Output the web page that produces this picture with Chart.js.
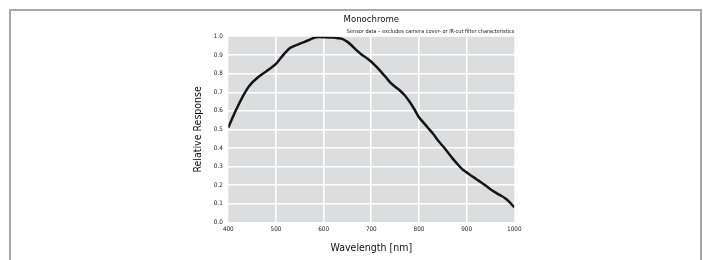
<!DOCTYPE html>
<html>
<head>
<meta charset="utf-8">
<script src="https://cdn.jsdelivr.net/npm/chart.js@4/dist/chart.umd.min.js"></script>
<style>
  html, body { margin: 0; padding: 0; background: #fff; }
  #wrap { position: relative; width: 703px; height: 260px; overflow: hidden; }
  #frame { position: absolute; left: 9px; top: 9px; width: 689px; height: 300px; border: 2px solid #a8a8a8; }
  #chart { position: absolute; left: 0; top: 0; }
</style>
</head>
<body>
<div id="wrap">
  <div id="frame"></div>
  <canvas id="chart" width="703" height="260"></canvas>
</div>
<script>
// wavelength [nm]
const wavelengths = [
  400, 410, 420, 430, 440, 450, 460, 470, 480, 490,
  500, 510, 520, 530, 540, 550, 560, 570, 580, 590,
  600, 610, 620, 630, 640, 650, 660, 670, 680, 690,
  700, 710, 720, 730, 740, 750, 760, 770, 780, 790,
  800, 810, 820, 830, 840, 850, 860, 870, 880, 890,
  900, 910, 920, 930, 940, 950, 960, 970, 980, 990, 1000
];
// relative response, monochrome sensor
const response = [
  0.51, 0.57, 0.625, 0.675, 0.72, 0.752, 0.776, 0.796, 0.814, 0.832,
  0.853, 0.885, 0.915, 0.94, 0.952, 0.962, 0.972, 0.983, 0.994, 0.998,
  0.997, 0.996, 0.995, 0.992, 0.987, 0.972, 0.95, 0.925, 0.903, 0.885,
  0.865, 0.84, 0.812, 0.783, 0.752, 0.73, 0.71, 0.684, 0.65, 0.61,
  0.565, 0.535, 0.505, 0.475, 0.44, 0.41, 0.378, 0.345, 0.315, 0.287,
  0.268, 0.25, 0.232, 0.215, 0.197, 0.177, 0.16, 0.145, 0.13, 0.108, 0.08
];
const xTicks = [400, 500, 600, 700, 800, 900, 1000];
const yTicks = [0.0, 0.1, 0.2, 0.3, 0.4, 0.5, 0.6, 0.7, 0.8, 0.9, 1.0];

const FONT = '"Liberation Sans Narrow", "DejaVu Sans Condensed", "Roboto", sans-serif';

const plotBg = {
  id: 'plotBg',
  beforeDraw(chart) {
    const { ctx, chartArea: a } = chart;
    ctx.save();
    ctx.fillStyle = '#dcdddf';
    ctx.fillRect(a.left, a.top, a.right - a.left, a.bottom - a.top);
    ctx.restore();
  }
};

// hide grid lines on the plot edges
const innerGrid = (ctx) => {
  const n = ctx.scale.ticks.length;
  return (ctx.index === 0 || ctx.index === n - 1) ? 'rgba(0,0,0,0)' : '#ffffff';
};

new Chart(document.getElementById('chart'), {
  type: 'line',
  data: {
    datasets: [{
      data: wavelengths.map((w, i) => ({ x: w, y: response[i] })),
      borderColor: '#151515',
      borderWidth: 2.5,
      pointRadius: 0,
      tension: 0.3,
      fill: false
    }]
  },
  options: {
    responsive: false,
    animation: false,
    layout: { padding: { left: 184, right: 188.7, top: 0, bottom: 0 } },
    plugins: {
      legend: { display: false },
      tooltip: { enabled: false },
      title: {
        display: true,
        text: 'Monochrome',
        fullSize: false,
        color: '#111',
        font: { family: FONT, size: 9.5, weight: 'normal' },
        padding: { top: 14, bottom: 0 }
      },
      subtitle: {
        display: true,
        text: 'Sensor data – excludes camera cover- or IR-cut filter characteristics',
        fullSize: false,
        align: 'end',
        color: '#222',
        font: { family: FONT, size: 5.5 },
        padding: { top: 2.6, bottom: 2.1 }
      }
    },
    scales: {
      x: {
        type: 'linear',
        min: 400,
        max: 1000,
        afterBuildTicks: (s) => { s.ticks = xTicks.map(v => ({ value: v })); },
        border: { display: false },
        grid: { color: innerGrid, lineWidth: 1.6, drawTicks: false },
        ticks: {
          color: '#222',
          padding: 4,
          font: { family: FONT, size: 6.3 },
          maxRotation: 0,
          callback: (v) => String(v)
        },
        title: {
          display: true,
          text: 'Wavelength [nm]',
          color: '#111',
          font: { family: FONT, size: 10.5 },
          padding: { top: 4.1, bottom: 5.7 }
        }
      },
      y: {
        min: 0,
        max: 1,
        afterBuildTicks: (s) => { s.ticks = yTicks.map(v => ({ value: v })); },
        afterFit: (s) => { s.width = 44.3; },
        border: { display: false },
        grid: { color: innerGrid, lineWidth: 1.6, drawTicks: false },
        ticks: {
          color: '#222',
          padding: 5.5,
          font: { family: FONT, size: 6.3 },
          callback: (v) => v.toFixed(1)
        },
        title: {
          display: true,
          text: 'Relative Response',
          color: '#111',
          font: { family: FONT, size: 10.5 },
          padding: { top: 8.2, bottom: 0 }
        }
      }
    }
  },
  plugins: [plotBg]
});
</script>
</body>
</html>
